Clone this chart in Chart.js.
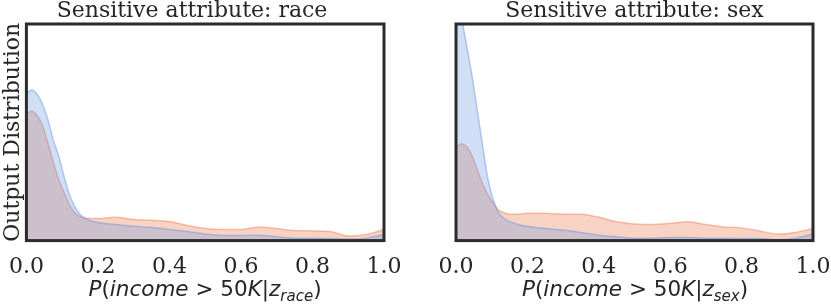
<!DOCTYPE html>
<html>
<head>
<meta charset="utf-8">
<script src="https://cdn.jsdelivr.net/npm/chart.js@4.4.0/dist/chart.umd.min.js"></script>
<style>
    body { margin: 0; background: #fff; width: 831px; height: 306px; overflow: hidden; position: relative; }
    canvas { position: absolute; top: 0; }
    .xlab { position: absolute; top: 276px; font-family: "DejaVu Sans", sans-serif; font-size: 21.5px; color: #262626; white-space: nowrap; transform: translateX(-50%); }
    .xlab sub { font-size: 15px; vertical-align: -5px; }
</style>
</head>
<body>
<canvas id="chartRace" width="410" height="280" style="left:0;"></canvas>
<canvas id="chartSex" width="393" height="280" style="left:438px;"></canvas>
<div class="xlab" style="left:205px;"><i>P</i>(<i>income</i> &gt; 50<i>K</i>|<i>z</i><sub><i>race</i></sub>)</div>
<div class="xlab" style="left:635px;"><i>P</i>(<i>income</i> &gt; 50<i>K</i>|<i>z</i><sub><i>sex</i></sub>)</div>

<script>
// grid of output probabilities where the densities were read
const xs = [0, 0.015, 0.03, 0.045, 0.06, 0.075, 0.09, 0.105, 0.12, 0.135, 0.15, 0.175, 0.2, 0.25, 0.3,
    0.35, 0.4, 0.45, 0.5, 0.55, 0.6, 0.65, 0.7, 0.75, 0.8, 0.85, 0.9, 0.95, 1.0];

// race panel
const raceBlue = [4.87, 4.97, 4.83, 4.5, 4.0, 3.33, 2.8, 2.13, 1.53, 1.13, 0.87, 0.67, 0.6, 0.53, 0.47,
    0.43, 0.37, 0.3, 0.22, 0.17, 0.17, 0.18, 0.13, 0.08, 0.08, 0.07, 0.05, 0.08, 0.2];
const raceOrange = [4.2, 4.27, 4.13, 3.8, 3.23, 2.6, 2.03, 1.6, 1.2, 0.93, 0.8, 0.73, 0.73, 0.77, 0.7,
    0.67, 0.63, 0.5, 0.4, 0.37, 0.37, 0.45, 0.4, 0.33, 0.32, 0.3, 0.15, 0.2, 0.37];

// sex panel
const sexBlue = [8.33, 7.4, 6.43, 5.43, 4.27, 3.1, 2.0, 1.33, 0.9, 0.73, 0.63, 0.53, 0.47, 0.4, 0.35,
    0.27, 0.18, 0.13, 0.08, 0.08, 0.1, 0.1, 0.08, 0.08, 0.07, 0.07, 0.03, 0.08, 0.22];
const sexOrange = [3.07, 3.2, 3.1, 2.8, 2.33, 1.87, 1.5, 1.23, 1.0, 0.92, 0.87, 0.87, 0.9, 0.9, 0.87,
    0.87, 0.77, 0.62, 0.55, 0.53, 0.57, 0.62, 0.53, 0.45, 0.42, 0.32, 0.22, 0.27, 0.4];

const xTicks = [0, 0.2, 0.4, 0.6, 0.8, 1.0];
const yMax = 7.15;

const serif = "'DejaVu Serif', serif";
const ink = '#262626';

// black frame around the plotting area
const framePlugin = {
    id: 'frame',
    afterDraw(chart) {
        const a = chart.chartArea;
        const ctx = chart.ctx;
        ctx.save();
        ctx.strokeStyle = '#2b2b2b';
        ctx.lineWidth = 3;
        ctx.strokeRect(a.left, a.top, a.right - a.left, a.bottom - a.top);
        ctx.restore();
    }
};

function pts(ys) {
    return xs.map((x, i) => ({ x: x, y: ys[i] }));
}

function makeChart(id, title, blue, orange, showY, pad) {
    const ctx = document.getElementById(id);
    return new Chart(ctx, {
        type: 'line',
        data: {
            datasets: [{
                data: pts(blue),
                borderColor: 'rgba(100,145,225,0.45)',
                backgroundColor: 'rgba(100,145,225,0.30)',
                borderWidth: 1.5,
                fill: 'origin',
                pointRadius: 0,
                cubicInterpolationMode: 'monotone'
            }, {
                data: pts(orange),
                borderColor: 'rgba(235,125,80,0.45)',
                backgroundColor: 'rgba(235,125,80,0.34)',
                borderWidth: 1.5,
                fill: 'origin',
                pointRadius: 0,
                cubicInterpolationMode: 'monotone'
            }]
        },
        options: {
            responsive: false,
            animation: false,
            devicePixelRatio: 1,
            layout: { padding: pad },
            plugins: {
                legend: { display: false },
                tooltip: { enabled: false },
                title: {
                    display: true,
                    text: title,
                    color: ink,
                    font: { family: serif, size: 22, weight: 'normal', lineHeight: 1.0 },
                    padding: { top: 0, bottom: 2 }
                }
            },
            scales: {
                x: {
                    type: 'linear',
                    min: 0,
                    max: 1,
                    afterBuildTicks: axis => { axis.ticks = xTicks.map(v => ({ value: v })); },
                    ticks: {
                        color: ink,
                        font: { family: serif, size: 22 },
                        padding: 0,
                        maxRotation: 0,
                        callback: v => v.toFixed(1)
                    },
                    // invisible tick marks keep the labels below the frame
                    grid: { display: false, drawTicks: true, tickLength: 13 },
                    border: { display: false }
                },
                y: {
                    display: showY,
                    min: 0,
                    max: yMax,
                    ticks: { display: false },
                    grid: { display: false, drawTicks: false },
                    border: { display: false },
                    title: {
                        display: true,
                        text: 'Output Distribution',
                        color: ink,
                        font: { family: serif, size: 22, weight: 'normal' },
                        padding: { top: 0, bottom: 0 }
                    }
                }
            }
        },
        plugins: [framePlugin]
    });
}

makeChart('chartRace', 'Sensitive attribute: race', raceBlue, raceOrange, true, { left: 0, right: 26, top: 0, bottom: 0 });
makeChart('chartSex', 'Sensitive attribute: sex', sexBlue, sexOrange, false, { left: 18, right: 18, top: 0, bottom: 0 });
</script>
</body>
</html>
